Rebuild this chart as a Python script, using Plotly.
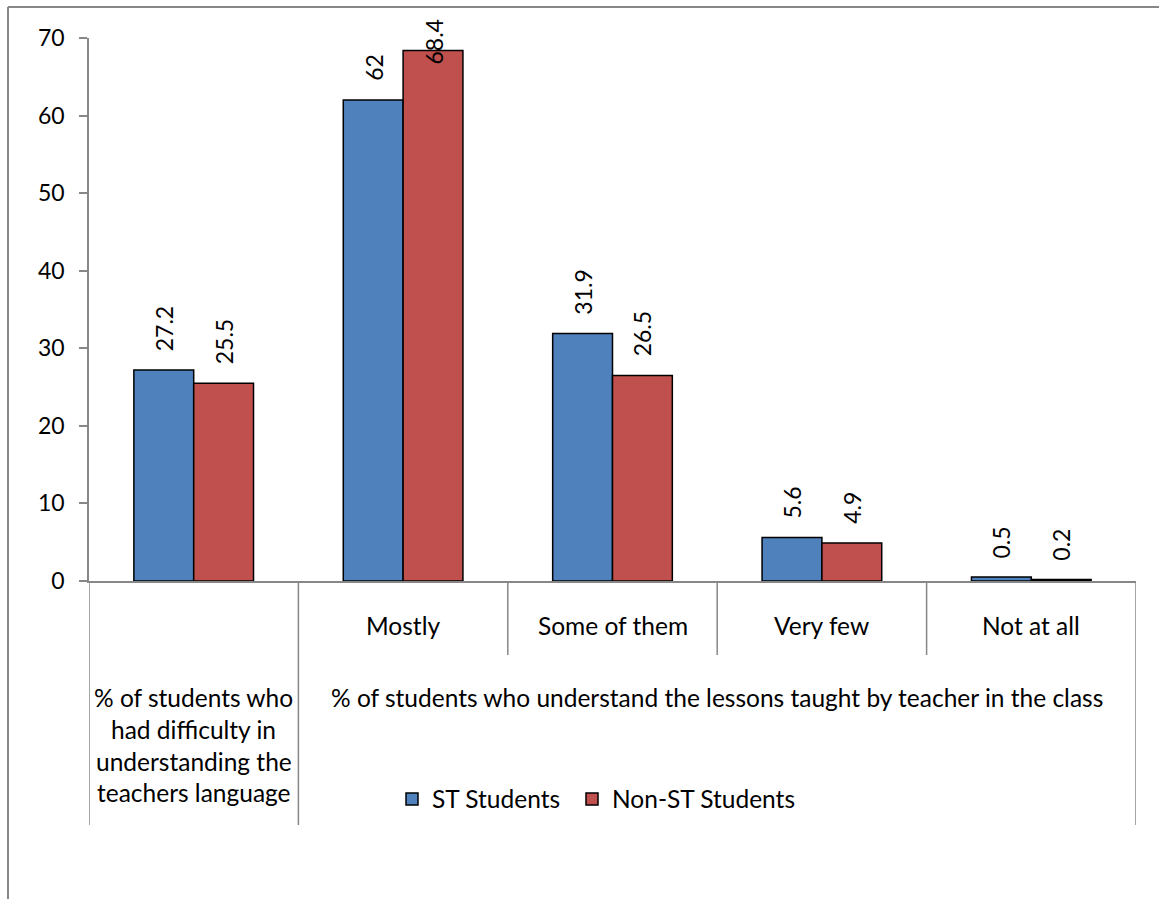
import plotly.graph_objects as go

# ---- data -------------------------------------------------------------
group_labels = [
    "% of students who<br>had difficulty in<br>understanding the<br>teachers language",
    "% of students who understand the lessons taught by teacher in the class",
]
option_labels = ["", "Mostly", "Some of them", "Very few", "Not at all"]
option_group = [0, 1, 1, 1, 1]
series_names = ["ST Students", "Non-ST Students"]
st_values = [27.2, 62, 31.9, 5.6, 0.5]
non_st_values = [25.5, 68.4, 26.5, 4.9, 0.2]
y_ticks = [0, 10, 20, 30, 40, 50, 60, 70]

# ---- styling / layout constants -------------------------------------
W, H = 1159, 899
L, R, T, B = 89, 1136, 38, 581          # plot-area pixel box
FONT = "Lato"
FS = 23                                  # ticks and value labels
FS_CAT = 24.5                            # category labels and legend
AXIS_GREY = "#878787"
COLORS = ["#4F81BD", "#C0504D"]
GAP_RATIO = 1.5                          # Excel-style gap width (150 %)
YMAX = 70

n = len(option_labels)
bar_w = 1.0 / (2 + GAP_RATIO)
offsets = [-bar_w, 0.0]
xs = list(range(n))
legend_ids = ["legend", "legend2"]
legend_left_px = [392, 572]


def px_x(p):
    return (p - L) / (R - L)


def px_y(p):
    return (B - p) / (B - T)


fig = go.Figure()
for name, vals, col, off, lg in zip(series_names, [st_values, non_st_values],
                                    COLORS, offsets, legend_ids):
    fig.add_trace(go.Bar(
        x=xs, y=vals, name=name, width=bar_w, offset=off, legend=lg,
        showlegend=True,
        marker=dict(color=col, line=dict(color="black", width=1.5)),
    ))

annotations = []
shapes = []

# value labels, rotated, above each bar (kept inside the chart area)
px_per_unit = (B - T) / YMAX
LABEL_GAP = 17
LABEL_TOP_LIMIT = 18
for vals, off in zip([st_values, non_st_values], offsets):
    for i, v in enumerate(vals):
        txt = f"{v:g}"
        est_len = len(txt) * 11
        bottom_px = B - v * px_per_unit - LABEL_GAP
        common = dict(x=i + off + bar_w / 2, xref="x", text=txt, textangle=-90,
                      showarrow=False, font=dict(family=FONT, size=FS, color="black"),
                      xanchor="center")
        if bottom_px - est_len < LABEL_TOP_LIMIT:
            annotations.append(dict(**common, y=px_y(LABEL_TOP_LIMIT), yref="paper",
                                    yanchor="top"))
        else:
            annotations.append(dict(**common, y=v, yref="y", yanchor="bottom",
                                    yshift=LABEL_GAP))

# category axis: inner level labels
for i, lab in enumerate(option_labels):
    if lab:
        annotations.append(dict(x=i, xref="x", y=px_y(625), yref="paper", text=lab,
                                showarrow=False, yanchor="middle",
                                font=dict(family=FONT, size=FS_CAT, color="black")))

# category axis: outer level labels (one line per annotation)
for g, lab in enumerate(group_labels):
    members = [i for i, gg in enumerate(option_group) if gg == g]
    cx = (members[0] + members[-1]) / 2
    for k, line in enumerate(lab.split("<br>")):
        annotations.append(dict(x=cx, xref="x", y=px_y(697 + 32 * k), yref="paper",
                                text=line, showarrow=False, yanchor="middle",
                                font=dict(family=FONT, size=FS_CAT, color="black")))

# category dividers
group_edges = {-0.5, n - 0.5}
for i in range(1, n):
    if option_group[i] != option_group[i - 1]:
        group_edges.add(i - 0.5)
for k in range(n + 1):
    xe = k - 0.5
    y_end = 825 if xe in group_edges else 655
    shapes.append(dict(type="line", xref="x", yref="paper", x0=xe, x1=xe,
                       y0=0, y1=px_y(y_end),
                       line=dict(color=AXIS_GREY, width=1.5)))

# outer chart border (top and left edges)
shapes.append(dict(type="line", xref="paper", yref="paper",
                   x0=px_x(8), x1=px_x(W + 5), y0=px_y(7), y1=px_y(7),
                   line=dict(color=AXIS_GREY, width=2)))
shapes.append(dict(type="line", xref="paper", yref="paper",
                   x0=px_x(8), x1=px_x(8), y0=px_y(7), y1=px_y(H + 5),
                   line=dict(color=AXIS_GREY, width=2)))

legend_style = dict(orientation="h", xanchor="left", y=px_y(799), yanchor="middle",
                    font=dict(family=FONT, size=FS_CAT, color="black"),
                    bgcolor="rgba(0,0,0,0)", borderwidth=0, visible=True)

fig.update_layout(
    width=W, height=H,
    margin=dict(l=L, r=W - R, t=T, b=H - B, pad=0),
    paper_bgcolor="white", plot_bgcolor="white",
    barmode="overlay",
    showlegend=True,
    font=dict(family=FONT, size=FS, color="black"),
    xaxis=dict(range=[-0.5, n - 0.5], showticklabels=False, ticks="",
               showgrid=False, zeroline=False, showline=True,
               linecolor=AXIS_GREY, linewidth=1.5, fixedrange=True),
    yaxis=dict(range=[0, YMAX], tickvals=y_ticks, ticks="outside", ticklen=8,
               tickcolor=AXIS_GREY, tickwidth=1.5, showgrid=False, zeroline=False,
               showline=True, linecolor=AXIS_GREY, linewidth=1.5,
               ticklabelstandoff=10,
               tickfont=dict(family=FONT, size=FS, color="black")),
    legend=dict(**legend_style, x=px_x(legend_left_px[0])),
    legend2=dict(**legend_style, x=px_x(legend_left_px[1])),
    annotations=annotations,
    shapes=shapes,
)

fig.write_html("out.html")
